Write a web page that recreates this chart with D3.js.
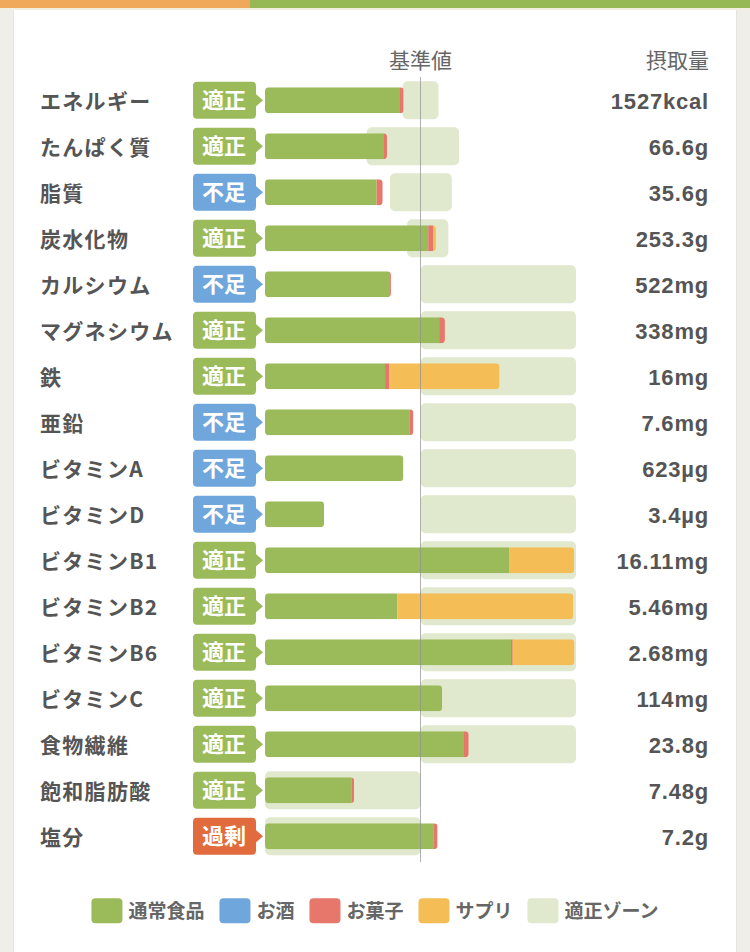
<!DOCTYPE html>
<html><head><meta charset="utf-8">
<script src="https://cdn.jsdelivr.net/npm/d3@7"></script>
<style>
html,body{margin:0;padding:0;background:#efeee9;}
svg{display:block;}
</style></head><body>
<svg id="chart" width="750" height="952"></svg>
<script>
// ---- data (percent of reference value) ----
const nutrients = ["エネルギー","たんぱく質","脂質","炭水化物","カルシウム","マグネシウム","鉄","亜鉛","ビタミンA","ビタミンD","ビタミンB1","ビタミンB2","ビタミンB6","ビタミンC","食物繊維","飽和脂肪酸","塩分"];
const status = ["適正","適正","不足","適正","不足","適正","適正","不足","不足","不足","適正","適正","適正","適正","適正","適正","過剰"];
const intakeLabels = ["1527kcal","66.6g","35.6g","253.3g","522mg","338mg","16mg","7.6mg","623µg","3.4µg","16.11mg","5.46mg","2.68mg","114mg","23.8g","7.48g","7.2g"];
const normalFood  = [86.8,76.5,71.8,105,80.4,112,77.2,92.8,89,38,157,85,158.2,114,127.5,55.8,108.2];
const alcohol     = [0,0,0,0,0,0,0,0,0,0,0,0,0,0,0,0,0];
const snacks      = [2,2,3.9,3.2,0.6,3.7,2.8,2.6,0,0,0,0,1.1,0,3.5,1.5,2.8];
const supplements = [0.6,0,0,1.7,0,0,70.8,0,0,0,41.8,113.3,39.7,0,0,0,0];
const zoneLow     = [88.5,65.4,80.4,91.4,100,100,100,100,100,100,100,100,100,100,100,0,0];
const zoneHigh    = [111.6,124.8,120.1,117.9,200,200,200,200,200,200,200,200,200,200,200,100,100];
const legendNames = ["通常食品","お酒","お菓子","サプリ","適正ゾーン"];
const headerRef = "基準値";
const headerIntake = "摂取量";

// ---- styles ----
const seriesColors = ["#9bbb5a","#6fa7dc","#e6776a","#f4bd55"];
const zoneColor = "#e0e8cd";
const statusColors = {"適正":"#9bbb5a","不足":"#6fa7dc","過剰":"#e16b3d"};
const textColor = "#555555";
const jpFont = "'Noto Sans CJK JP','Noto Sans',sans-serif";
const numFont = "'Liberation Sans','Noto Sans CJK JP',sans-serif";

const svg = d3.select("#chart");
const W = 750, H = 952;

// background & card
svg.append("rect").attr("x",0).attr("y",0).attr("width",W).attr("height",H).attr("fill","#efeee9");
svg.append("rect").attr("x",13).attr("y",10).attr("width",724).attr("height",H).attr("fill","#e6e4de");
svg.append("rect").attr("x",14).attr("y",10).attr("width",722).attr("height",H).attr("fill","#ffffff");
svg.append("rect").attr("x",0).attr("y",0).attr("width",W).attr("height",10).attr("fill","#f3efe0");
svg.append("rect").attr("x",0).attr("y",0).attr("width",250).attr("height",8).attr("fill","#f0a95a");
svg.append("rect").attr("x",250).attr("y",0).attr("width",500).attr("height",8).attr("fill","#97b955");

// scales
const x = d3.scaleLinear().domain([0,200]).range([265,576]);
const y = d3.scalePoint().domain(nutrients).range([100.3,836.3]);

const rows = nutrients.map((n,i)=>({
  name:n, i, status:status[i], label:intakeLabels[i],
  segs:[normalFood[i],alcohol[i],snacks[i],supplements[i]],
  lo:zoneLow[i], hi:zoneHigh[i]
}));

// header
svg.append("text").attr("x",x(100)).attr("y",68).attr("text-anchor","middle")
  .attr("font-family",jpFont).attr("font-size",21).attr("fill","#666").text(headerRef);
svg.append("text").attr("x",709).attr("y",68).attr("text-anchor","end")
  .attr("font-family",jpFont).attr("font-size",21).attr("fill","#666").text(headerIntake);

const defs = svg.append("defs");
const g = svg.append("g");

rows.forEach(r=>{
  const cy = y(r.name);
  const row = g.append("g");
  // zone
  row.append("rect").attr("x",x(r.lo)).attr("y",cy-19).attr("width",x(r.hi)-x(r.lo)).attr("height",38)
    .attr("rx",5).attr("fill",zoneColor);
  // bar segments
  const total = d3.sum(r.segs);
  const clipId = "clip"+r.i;
  defs.append("clipPath").attr("id",clipId).append("rect")
    .attr("x",x(0)).attr("y",cy-13).attr("width",x(total)-x(0)).attr("height",26).attr("rx",4);
  let acc = 0;
  const bars = row.append("g").attr("clip-path",`url(#${clipId})`);
  r.segs.forEach((v,k)=>{
    if(v>0){
      bars.append("rect").attr("x",x(acc)).attr("y",cy-13).attr("width",x(acc+v)-x(acc)).attr("height",26)
        .attr("fill",seriesColors[k]);
    }
    acc += v;
  });
  // badge
  const bc = statusColors[r.status];
  row.append("rect").attr("x",193).attr("y",cy-18.5).attr("width",63).attr("height",37).attr("rx",4).attr("fill",bc);
  row.append("path").attr("d",`M255,${cy-7}L263,${cy}L255,${cy+7}Z`).attr("fill",bc);
  row.append("text").attr("x",224).attr("y",cy+8).attr("text-anchor","middle")
    .attr("font-family",jpFont).attr("font-weight",700).attr("font-size",22).attr("fill","#fff").text(r.status);
  // label
  row.append("text").attr("x",40).attr("y",cy+8.5).attr("font-family",jpFont).attr("font-weight",600)
    .attr("font-size",21).attr("letter-spacing",1.3).attr("fill",textColor).text(r.name);
  // value
  row.append("text").attr("x",709).attr("y",cy+8.5).attr("text-anchor","end").attr("font-family",numFont)
    .attr("font-weight",700).attr("font-size",22).attr("letter-spacing",0.8).attr("fill",textColor).text(r.label);
});

// reference line
svg.append("line").attr("x1",x(100)).attr("x2",x(100)).attr("y1",77).attr("y2",862)
  .attr("stroke","#8f8f8f").attr("stroke-opacity",0.7).attr("stroke-width",1);

// legend
const legendColors = seriesColors.concat([zoneColor]);
const lg = svg.append("g");
let lx = 0;
const gapItem = 15;
legendNames.forEach((name,i)=>{
  const it = lg.append("g");
  it.append("rect").attr("x",0).attr("y",-12.5).attr("width",31).attr("height",25).attr("rx",4).attr("fill",legendColors[i]);
  const t = it.append("text").attr("x",37).attr("y",7).attr("font-family",jpFont).attr("font-weight",600)
    .attr("font-size",19).attr("fill","#666").text(name);
  const w = 37 + t.node().getComputedTextLength();
  it.attr("transform",`translate(${lx},0)`);
  lx += w + gapItem;
});
const totalW = lx - gapItem;
lg.attr("transform",`translate(${(W-totalW)/2},910.8)`);
</script>
</body></html>
